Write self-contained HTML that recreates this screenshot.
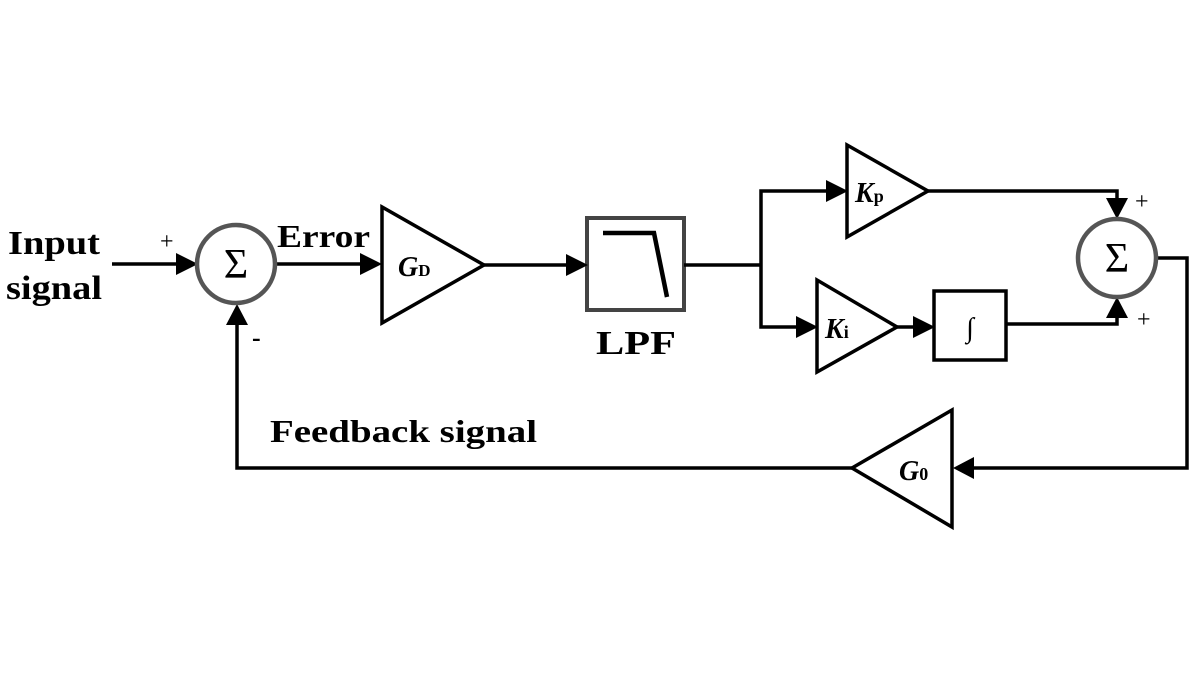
<!DOCTYPE html>
<html><head><style>body{margin:0;background:#fff}svg{display:block}</style></head><body>
<svg width="1200" height="675" viewBox="0 0 1200 675" xmlns="http://www.w3.org/2000/svg" font-family="Liberation Serif, serif" font-weight="bold">
<g stroke="#000" stroke-width="3.5" fill="none">
<line x1="112" y1="264" x2="180" y2="264"/>
<line x1="275" y1="264" x2="362" y2="264"/>
<polygon points="382,207 382,323 484,265" />
<line x1="484" y1="265" x2="567" y2="265"/>
<rect x="587" y="218" width="97" height="92" stroke="#444" stroke-width="4"/>
<polyline points="603,233 654,233 667,297" stroke-width="4.5"/>
<polyline points="684,265 761,265"/>
<polyline points="761,265 761,191 827,191"/>
<polyline points="761,265 761,327 797,327"/>
<polygon points="847,145 847,237 928,191"/>
<polygon points="817,280 817,372 897,327"/>
<line x1="897" y1="327" x2="915" y2="327"/>
<rect x="934" y="291" width="72" height="69"/>
<polyline points="928,191 1117,191 1117,202"/>
<polyline points="1006,324 1117,324 1117,313"/>
<polyline points="1156,258 1187,258 1187,468 972,468"/>
<polygon points="952,410 952,527 852,468"/>
<polyline points="852,468 237,468 237,323"/>
</g>
<g fill="#000">
<polygon points="176,253 198,264 176,275"/>
<polygon points="360,253 382,264 360,275"/>
<polygon points="566,254 588,265 566,276"/>
<polygon points="826,180 848,191 826,202"/>
<polygon points="796,316 818,327 796,338"/>
<polygon points="913,316 935,327 913,338"/>
<polygon points="1106,198 1117,219 1128,198"/>
<polygon points="1106,318 1117,297 1128,318"/>
<polygon points="974,457 953,468 974,479"/>
<polygon points="226,325 237,304 248,325"/>
</g>
<g stroke="#555" stroke-width="4.5" fill="#fff">
<circle cx="236" cy="264" r="39"/>
<circle cx="1117" cy="258" r="39"/>
</g>
<g fill="#000">
<text x="236" y="278" font-size="42" font-weight="normal" text-anchor="middle">Σ</text>
<text x="1117" y="272" font-size="42" font-weight="normal" text-anchor="middle">Σ</text>
<text x="8" y="254" font-size="34" textLength="92" lengthAdjust="spacingAndGlyphs">Input</text>
<text x="6" y="299" font-size="34" textLength="96" lengthAdjust="spacingAndGlyphs">signal</text>
<text x="160" y="249" font-size="24" font-weight="normal">+</text>
<text x="252" y="346" font-size="26">-</text>
<text x="277" y="247" font-size="32" textLength="93" lengthAdjust="spacingAndGlyphs">Error</text>
<text x="398" y="276" font-size="28" font-style="italic">G<tspan font-size="17" font-style="normal">D</tspan></text>
<text x="596" y="354" font-size="34" textLength="80" lengthAdjust="spacingAndGlyphs">LPF</text>
<text x="855" y="202" font-size="28" font-style="italic">K<tspan font-size="18" font-style="normal">p</tspan></text>
<text x="825" y="338" font-size="28" font-style="italic">K<tspan font-size="18" font-style="normal">i</tspan></text>
<text x="970" y="337" font-size="28" font-weight="normal" font-style="italic" text-anchor="middle">∫</text>
<text x="1135" y="209" font-size="24" font-weight="normal">+</text>
<text x="1137" y="327" font-size="24" font-weight="normal">+</text>
<text x="899" y="480" font-size="28" font-style="italic">G<tspan font-size="18" font-style="normal">0</tspan></text>
<text x="270" y="442" font-size="32" textLength="267" lengthAdjust="spacingAndGlyphs">Feedback signal</text>
</g>
</svg>
</body></html>
